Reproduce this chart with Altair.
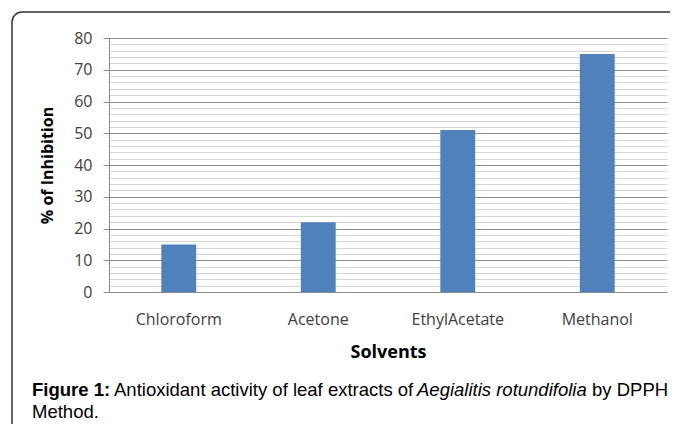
import altair as alt
import pandas as pd

solvents = ["Chloroform", "Acetone", "EthylAcetate", "Methanol"]
inhibition = [15, 22, 51, 75]
y_tick_values = list(range(0, 81, 2))
caption_bold = "Figure 1:"
caption_normal = "Antioxidant activity of leaf extracts of"
caption_italic = "Aegialitis rotundifolia"
caption_tail = "by DPPH"
caption_line2 = "Method."

df = pd.DataFrame({"Solvent": solvents, "Inhibition": inhibition})
one = pd.DataFrame({"k": [0]})

major = "datum.value % 10 === 0"

bars = alt.Chart(df).mark_bar(color="#4F81BD").encode(
    x=alt.X(
        "Solvent:N",
        sort=solvents,
        scale=alt.Scale(paddingInner=0.75, paddingOuter=0.375),
        axis=alt.Axis(
            title="Solvents",
            labelAngle=0,
            ticks=False,
            labelPadding=19,
            titlePadding=16,
            domainColor="#8c8c8c",
            labelFont="Open Sans",
            labelFontSize=16,
            labelColor="#404040",
            titleFont="Open Sans",
            titleFontSize=18,
            titleFontWeight="bold",
            titleColor="#000000",
        ),
    ),
    y=alt.Y(
        "Inhibition:Q",
        scale=alt.Scale(domain=[0, 80], nice=False),
        axis=alt.Axis(
            title="% of Inhibition",
            values=y_tick_values,
            labelExpr=f"{major} ? datum.label : ''",
            gridColor={"condition": {"test": major, "value": "#8c8c8c"}, "value": "#d6d6d6"},
            tickColor={"condition": {"test": major, "value": "#8c8c8c"}, "value": "transparent"},
            tickSize=6,
            labelPadding=11,
            domainColor="#8c8c8c",
            labelFont="Open Sans",
            labelFontSize=16,
            labelColor="#404040",
            titleFont="Open Sans",
            titleFontSize=16,
            titleFontWeight="bold",
            titleColor="#000000",
            titleX=-62,
            titleY=127,
            titleAngle=-90,
            titleAlign="center",
            titleBaseline="middle",
        ),
    ),
)

border = alt.Chart(one).mark_rect(
    fillOpacity=0, stroke="#333333", strokeWidth=1.5, cornerRadius=10
).encode(x=alt.value(-97), x2=alt.value(720), y=alt.value(-26), y2=alt.value(520))

def cap(text, x, y, **kw):
    return alt.Chart(one).mark_text(
        text=text, align="left", baseline="alphabetic", font="Liberation Sans",
        fontSize=18.5, color="#000000", **kw
    ).encode(x=alt.value(x), y=alt.value(y))

captions = [
    cap(caption_bold, -77, 358, fontWeight="bold"),
    cap(caption_normal, 5, 358),
    cap(caption_italic, 308, 358, fontStyle="italic"),
    cap(caption_tail, 483, 358),
    cap(caption_line2, -77, 380),
]

chart = alt.layer(border, bars, *captions).properties(
    width=558,
    height=254,
    autosize="none",
    padding={"left": 101, "top": 30, "right": 3, "bottom": 132},
).configure_view(stroke=None)

chart.save("out.html", embed_options={"renderer": "svg", "actions": False})
